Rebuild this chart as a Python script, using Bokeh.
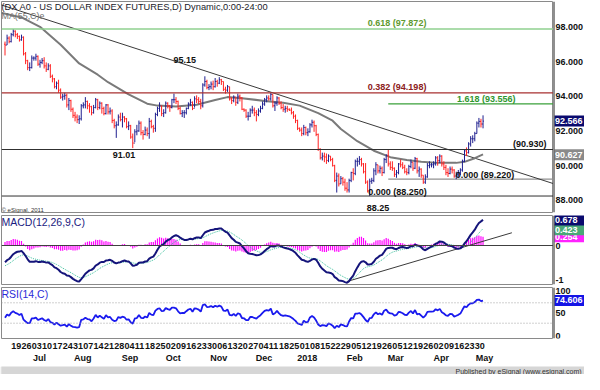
import numpy as np
import pandas as pd
from bokeh.plotting import figure
from bokeh.layouts import column, row
from bokeh.models import Range1d, Label, ColumnDataSource, Span
from bokeh.core.properties import value
from bokeh.embed import file_html
from bokeh.resources import INLINE

# ---------------- data ----------------
start_date = "2017-06-14"
end_date = "2018-05-04"

close = [96.95, 97.35, 97.15, 97.55, 97.75, 97.55, 97.45, 97.25, 97.40, 96.45, 96.05, 95.65, 95.65,
         96.20, 96.20, 96.30, 95.85, 95.95, 96.05, 95.75, 95.55, 95.75, 95.15, 95.00, 94.55, 94.75, 94.35, 93.95, 94.00, 94.05, 93.50, 93.75, 93.25, 92.90,
         92.80, 92.65, 92.70, 93.45, 93.50, 93.70, 93.45, 93.40, 93.05, 93.35, 93.80, 93.35, 93.60, 93.30, 93.00, 93.50, 93.10, 93.15, 92.60, 92.30, 92.35, 92.80, 92.65,
         92.80, 92.70, 92.25, 92.30, 91.65, 91.30, 91.95, 92.00, 92.45, 91.90, 91.80, 92.05, 91.85, 92.55, 92.25, 92.15, 92.95, 93.30, 93.45, 93.00, 93.05,
         93.60, 93.45, 93.35, 93.80, 93.80, 93.70, 93.30, 93.00, 93.05, 93.05, 93.30, 93.55, 93.65, 93.30, 93.85, 93.80, 93.70, 93.45, 94.65, 94.85, 94.50, 94.55,
         94.70, 94.55, 94.85, 94.75, 94.95, 94.85, 94.40, 94.35, 94.55, 93.85, 93.75, 93.95, 93.65, 94.00, 93.90, 93.25, 93.20, 92.85, 92.85, 93.20, 93.20, 93.05,
         92.95, 93.15, 93.30, 93.55, 93.80, 93.90, 93.85, 94.10, 93.45, 93.60, 93.90, 93.60, 93.35, 93.25, 93.30, 93.25, 93.20, 93.05, 92.85, 92.60, 92.15,
         92.05, 91.85, 92.20, 91.90, 91.95, 92.35, 92.50, 92.30, 91.80, 90.95, 90.45, 90.55, 90.50, 90.30, 90.55, 90.35, 90.00, 89.15, 89.40, 88.95, 89.25, 89.05, 88.70,
         88.60, 89.15, 89.60, 89.55, 90.25, 90.25, 90.35, 90.10, 89.65, 89.05, 88.55, 89.10, 89.15, 89.70, 90.05, 89.70, 89.85, 89.60, 90.35, 90.60,
         90.10, 89.90, 89.85, 89.50, 89.60, 90.10, 90.05, 89.90, 89.65, 89.60, 89.95, 90.20, 89.85, 90.40, 89.70, 89.80, 89.45, 89.05, 89.35, 90.00, 90.05, 90.05,
         90.10, 90.45, 90.30, 90.55, 90.10, 89.90, 89.60, 89.55, 89.80, 89.75, 89.40, 89.50, 89.60, 89.75, 90.25, 90.85, 90.75, 91.25, 91.55, 91.55, 91.85,
         92.45, 92.55, 92.40, 92.566]

high = [97.15, 97.55, 97.45, 97.65, 97.87, 97.80, 97.65, 97.50, 97.55, 97.45, 96.55, 96.10, 95.95,
        96.35, 96.30, 96.45, 96.35, 96.10, 96.20, 96.25, 95.95, 95.90, 95.85, 95.25, 95.05, 94.85, 94.95, 94.45, 94.15, 94.20, 94.15, 93.90, 93.80, 93.35,
        93.10, 92.95, 92.90, 93.55, 93.65, 93.95, 93.75, 93.60, 93.45, 93.50, 93.90, 93.85, 93.70, 93.65, 93.40, 93.55, 93.55, 93.35, 93.25, 92.70, 92.55, 92.95, 93.05,
        93.05, 92.85, 92.75, 92.55, 92.35, 91.85, 92.10, 92.35, 92.60, 92.55, 92.05, 92.25, 92.20, 92.75, 92.65, 92.35, 93.05, 93.40, 93.65, 93.45, 93.25,
        93.70, 93.65, 93.50, 93.85, 94.15, 93.95, 93.75, 93.40, 93.20, 93.20, 93.35, 93.65, 93.85, 93.70, 94.00, 94.05, 93.95, 93.85, 94.75, 95.15, 94.95, 94.70,
        94.85, 94.90, 95.05, 94.95, 95.10, 95.00, 94.85, 94.55, 94.65, 94.55, 93.95, 94.05, 93.95, 94.15, 94.10, 93.95, 93.30, 93.25, 93.10, 93.30, 93.45, 93.35,
        93.20, 93.30, 93.45, 93.70, 93.90, 94.05, 94.05, 94.20, 94.10, 93.70, 94.00, 93.95, 93.70, 93.55, 93.45, 93.45, 93.30, 93.35, 93.15, 92.95, 92.65,
        92.20, 92.20, 92.35, 92.25, 92.15, 92.45, 92.65, 92.60, 92.35, 91.85, 91.00, 90.75, 90.75, 90.70, 90.65, 90.55, 90.45, 90.05, 89.60, 89.55, 89.40, 89.35, 89.25,
        89.05, 89.25, 89.65, 89.85, 90.35, 90.45, 90.55, 90.45, 90.15, 90.15, 89.15, 89.25, 89.30, 89.85, 90.20, 90.05, 90.00, 89.95, 90.45, 90.65,
        90.93, 90.25, 90.25, 89.90, 89.75, 90.15, 90.35, 90.20, 90.05, 89.85, 90.05, 90.35, 90.20, 90.50, 90.45, 89.95, 89.85, 89.45, 89.50, 90.15, 90.25, 90.15,
        90.25, 90.55, 90.55, 90.65, 90.60, 90.25, 90.05, 89.85, 89.95, 89.95, 89.80, 89.65, 89.75, 89.85, 90.35, 90.95, 91.05, 91.35, 91.70, 91.75, 91.95,
        92.55, 92.75, 92.70, 92.90]

low = [96.35, 96.95, 97.05, 97.10, 97.45, 97.40, 97.30, 97.15, 97.20, 96.35, 95.85, 95.50, 95.45,
       95.60, 96.05, 96.05, 95.75, 95.65, 95.85, 95.60, 95.40, 95.50, 95.05, 94.80, 94.45, 94.40, 94.20, 93.85, 93.75, 93.80, 93.35, 93.20, 93.10, 92.75,
       92.55, 92.45, 92.40, 92.60, 93.30, 93.30, 93.25, 93.05, 92.90, 93.00, 93.30, 93.20, 93.25, 93.00, 92.90, 92.95, 92.95, 92.95, 92.45, 92.15, 91.60, 92.30, 92.55,
       92.20, 92.50, 92.15, 92.05, 91.55, 91.01, 91.35, 91.75, 91.95, 91.75, 91.50, 91.75, 91.70, 91.55, 92.15, 91.90, 91.95, 92.85, 93.10, 92.85, 92.80,
       93.00, 93.30, 93.10, 93.30, 93.60, 93.55, 93.20, 92.95, 92.80, 92.75, 92.95, 93.25, 93.45, 93.20, 93.35, 93.60, 93.55, 93.25, 93.35, 94.55, 94.40, 94.35,
       94.40, 94.35, 94.50, 94.55, 94.70, 94.65, 94.30, 94.15, 94.25, 93.75, 93.55, 93.65, 93.45, 93.55, 93.70, 93.20, 93.10, 92.75, 92.60, 92.80, 93.00, 92.85,
       92.55, 92.85, 93.05, 93.25, 93.45, 93.65, 93.75, 93.75, 93.35, 93.15, 93.45, 93.50, 93.25, 93.10, 93.05, 93.10, 93.15, 92.95, 92.70, 92.45, 92.05,
       91.95, 91.70, 91.75, 91.75, 91.70, 91.90, 92.20, 91.95, 91.70, 90.85, 90.35, 90.30, 90.20, 90.10, 90.20, 90.25, 89.95, 89.05, 88.45, 88.80, 88.95, 88.85, 88.55,
       88.45, 88.45, 89.05, 89.15, 89.45, 89.95, 90.05, 89.95, 89.55, 88.95, 88.45, 88.25, 88.95, 89.05, 89.45, 89.55, 89.55, 89.40, 89.55, 90.15,
       89.95, 89.75, 89.70, 89.35, 89.30, 89.50, 89.90, 89.80, 89.55, 89.45, 89.50, 89.85, 89.70, 89.80, 89.55, 89.35, 89.30, 88.95, 88.95, 89.30, 89.85, 89.90,
       89.85, 90.00, 90.00, 90.15, 89.95, 89.75, 89.45, 89.35, 89.50, 89.55, 89.30, 89.22, 89.35, 89.45, 89.65, 90.20, 90.55, 90.70, 91.10, 91.30, 91.40,
       91.85, 92.20, 92.20, 92.15]

# closes before the visible window (needed to start MACD / RSI)
warmup_close = [100.9, 101.2, 101.2, 100.5, 100.9, 100.9, 101.5, 101.2, 101.0, 101.1, 101.1, 101.1,
                101.8, 101.8, 101.5, 101.6, 101.9, 102.2, 102.0, 101.3, 101.2, 101.7, 100.6, 100.4, 100.3,
                100.3, 99.8, 99.7, 99.8, 99.6, 99.1, 99.7, 99.9, 100.4, 100.35,
                100.5, 100.7, 100.6, 100.7, 101.1, 101.05, 100.7, 100.3, 100.5, 100.5, 100.1, 99.5, 99.8,
                99.8, 99.8, 99.0, 99.2, 99.1, 99.2, 99.05,
                99.1, 99.0, 99.5, 98.8, 98.6, 98.9, 99.6, 99.6, 99.7, 99.2, 98.9, 98.2, 97.5, 97.7, 97.1,
                97.0, 97.3, 97.1, 97.3, 97.4, 97.4, 97.3, 97.0,
                97.2, 96.7, 96.9, 96.5, 96.6, 96.9, 97.3, 97.2, 97.0]

# MA(55) line (bar index, value)
ma_idx = [-2, 8, 17, 27, 36, 45, 50, 60, 69, 74, 83, 93, 102, 108, 115, 126, 135, 143, 152,
          159, 163, 171, 179, 187, 195, 202, 210, 219, 223, 228, 232]
ma_val = [98.81, 98.54, 98.00, 96.97, 95.89, 95.24, 94.81, 94.11, 93.57, 93.46, 93.41, 93.51,
          93.78, 93.95, 93.89, 93.73, 93.62, 93.46, 93.03, 92.59, 92.11, 91.41, 90.86, 90.49,
          90.32, 90.22, 90.16, 90.16, 90.22, 90.43, 90.65]

last_close, last_ma = 92.566, 90.627
last_macd, last_signal, last_hist, last_rsi = 0.678, 0.423, 0.254, 74.606

fib_names = ["0.618", "0.382", "1.618", "", "0.000", "0.000"]
fib_levels = [97.872, 94.198, 93.556, 90.930, 88.250, 89.220]
fib_start_idx = 186
swing_labels = ["95.15", "91.01", "88.25"]

trend_idx = [-2, 266]
trend_val = [99.27, 88.97]
macd_trend_idx = [166, 246]
macd_trend_val = [-0.96, 0.34]

price_ticks = [88, 90, 92, 94, 96, 98]
macd_ticks = [-1, 0]
rsi_ticks = [0, 50, 100]
rsi_bands = [70, 30]
month_names = ["Jul", "Aug", "Sep", "Oct", "Nov", "Dec", "2018", "Feb", "Mar", "Apr", "May"]

# ---------------- indicators ----------------
def ema(arr, n):
    a = 2.0 / (n + 1)
    out = np.empty(len(arr))
    out[0] = arr[0]
    for k in range(1, len(arr)):
        out[k] = a * arr[k] + (1 - a) * out[k - 1]
    return out

allc = np.array(warmup_close + close, dtype=float)
W = len(warmup_close)
macd_all = ema(allc, 12) - ema(allc, 26)
sig_all = ema(macd_all, 9)
macd = macd_all[W:]
sig = sig_all[W:]
hist = macd - sig

d = np.diff(allc)
g = np.clip(d, 0, None)
l = np.clip(-d, 0, None)
ag, al = g[:14].mean(), l[:14].mean()
rsi_all = np.full(len(allc), np.nan)
for k in range(15, len(allc)):
    ag = (ag * 13 + g[k - 1]) / 14
    al = (al * 13 + l[k - 1]) / 14
    rsi_all[k] = 100 - 100 / (1 + ag / al) if al > 0 else 100.0
rsi = rsi_all[W:]

dates = pd.bdate_range(start_date, end_date)
idx = np.arange(len(close))
opens = [warmup_close[-1]] + close[:-1]

# ---------------- styling ----------------
FONT = "Liberation Sans"
X0, X1 = -1.7, 266.2
xr = Range1d(X0, X1)
PW, RW = 553, 31
UP, DN = "#1f1f8f", "#ff2020"


def panel(h, yr, top, bottom):
    p = figure(width=PW, height=h, x_range=xr, y_range=yr,
               x_axis_location=None, y_axis_location=None,
               toolbar_location=None, output_backend="svg",
               min_border_left=1, min_border_right=0,
               min_border_top=top, min_border_bottom=bottom)
    p.grid.visible = False
    p.outline_line_color = "#8a8a8a"
    return p


def side(h, yr, top, bottom):
    r = figure(width=RW, height=h, x_range=Range1d(0, RW), y_range=yr,
               x_axis_location=None, y_axis_location=None,
               toolbar_location=None, output_backend="svg",
               min_border_left=0, min_border_right=0,
               min_border_top=top, min_border_bottom=bottom)
    r.grid.visible = False
    r.outline_line_color = None
    r.add_layout(Span(location=0, dimension="height", line_color="#202020", line_width=2))
    return r


def ticks(r, vals, labels, baselines=None):
    for k, (v, s) in enumerate(zip(vals, labels)):
        bl = baselines[k] if baselines else "middle"
        r.text(x=[2], y=[v], text=[s], text_align="left", text_baseline=bl,
               text_font=value(FONT), text_font_size="9px", text_font_style="bold",
               text_color="#111111")


def txt(p, x, y, s, color="#111111", size="9px", style="bold", align="center",
        baseline="middle"):
    p.add_layout(Label(x=x, y=y, text=s, text_color=color, text_font=FONT,
                       text_font_size=size, text_font_style=style,
                       text_align=align, text_baseline=baseline))


def vbox(r, y, s, bg, fg="white"):
    r.rect(x=[16], y=[y], width=30, height=11, width_units="screen", height_units="screen",
           fill_color=bg, line_color=None)
    r.text(x=[1.5], y=[y], text=[s], text_align="left", text_baseline="middle",
           text_font=value(FONT), text_font_size="9px", text_font_style="bold",
           text_color=fg)


# ---------------- main price panel ----------------
yr1 = Range1d(87.30, 99.46)
p1 = panel(213, yr1, 1, 1)
r1 = side(213, yr1, 1, 1)
ticks(r1, price_ticks, [f"{t:.3f}" for t in price_ticks])

p1.add_layout(Span(location=fib_levels[0], dimension="width", line_color="#8fd08f", line_width=1.5))
p1.add_layout(Span(location=fib_levels[1], dimension="width", line_color="#a83030", line_width=1.2))
p1.add_layout(Span(location=fib_levels[3], dimension="width", line_color="#303030", line_width=1))
p1.add_layout(Span(location=fib_levels[4], dimension="width", line_color="#303030", line_width=1))
p1.line([fib_start_idx, X1], [fib_levels[2], fib_levels[2]], line_color="#3aa03a", line_width=1.2)
p1.line([fib_start_idx, X1], [fib_levels[5], fib_levels[5]], line_color="#909090", line_width=1.2)

p1.line(trend_idx, trend_val, line_color="#3a3a3a", line_width=1)
p1.line(ma_idx, ma_val, line_color="#7a7a7a", line_width=2)

cols = [UP if c >= o else DN for c, o in zip(close, opens)]
src = ColumnDataSource(dict(x=idx, lo=low, hi=high, o=opens, c=close, col=cols,
                            xl=idx - 0.45, xr=idx + 0.45))
p1.segment("x", "lo", "x", "hi", line_color="col", line_width=1, source=src)
p1.segment("xl", "o", "x", "o", line_color="col", line_width=1, source=src)
p1.segment("x", "c", "xr", "c", line_color="col", line_width=1, source=src)

txt(p1, X0, 99.46, "(DX A0 - US DOLLAR INDEX FUTURES,D) Dynamic,0:00-24:00",
    color="#1a1a2a", size="9.3px", style="normal", align="left", baseline="top")
txt(p1, X0, 98.92, "MA(55,C)e", color="#707070", size="8.9px", style="normal",
    align="left", baseline="top")
txt(p1, 190.3, 98.22, f"{fib_names[0]} ({fib_levels[0]:.3f})", color="#5f9a30")
txt(p1, 190.3, 94.54, f"{fib_names[1]} ({fib_levels[1]:.3f})", color="#8b2020")
txt(p1, 233.6, 93.84, f"{fib_names[2]} ({fib_levels[2]:.3f})", color="#2f962f")
txt(p1, 254.7, 91.24, f"({fib_levels[3]:.3f})")
txt(p1, 190.5, 88.49, f"{fib_names[4]} ({fib_levels[4]:.3f})")
txt(p1, 233.0, 89.46, f"{fib_names[5]} ({fib_levels[5]:.3f})")
txt(p1, 87.2, 96.11, swing_labels[0])
txt(p1, 57.7, 90.59, swing_labels[1])
txt(p1, 181.0, 87.57, swing_labels[2])
txt(p1, X0, 87.46, "\u00a9 eSignal, 2011", color="#333333", size="6px", style="normal",
    align="left")
vbox(r1, last_ma, f"{last_ma:.3f}", "#8a8a8a")
vbox(r1, last_close, f"{last_close:.3f}", "#0a0a6e")

# ---------------- MACD panel ----------------
yr2 = Range1d(-1.04, 0.80)
p2 = panel(72, yr2, 2, 1)
r2 = side(72, yr2, 2, 1)
ticks(r2, macd_ticks, [f"{t:d}" for t in macd_ticks], ["bottom", "middle"])
p2.add_layout(Span(location=0, dimension="width", line_color="#404040", line_width=1))
p2.segment(idx, np.zeros(len(idx)), idx, hist, line_color="#ff00ff", line_width=1.2)
p2.line(macd_trend_idx, macd_trend_val, line_color="#3a3a3a", line_width=1)
p2.line(idx, sig, line_color="#3cbf9c", line_width=1, line_dash="1 1")
p2.line(idx, macd, line_color="#14147a", line_width=2)
txt(p2, X0, 0.80, "MACD(12,26,9,C)", color="#1a1a80", size="10.5px", style="normal",
    align="left", baseline="top")
vbox(r2, 0.235, f"{last_hist:.3f}", "#ff22ff")
vbox(r2, last_signal, f"{last_signal:.3f}", "#4aa878")
vbox(r2, last_macd, f"{last_macd:.3f}", "#0a0a6e")

# ---------------- RSI panel ----------------
yr3 = Range1d(0, 100)
p3 = panel(54, yr3, 2, 1)
r3 = side(54, yr3, 2, 1)
ticks(r3, rsi_ticks, [f"{t:d}" for t in rsi_ticks], ["bottom", "middle", "top"])
for b in rsi_bands:
    p3.add_layout(Span(location=b, dimension="width", line_color="#a0a0a0",
                       line_width=1, line_dash="1 2"))
p3.line(idx, rsi, line_color="#1a1aee", line_width=1.8)
txt(p3, X0, 100, "RSI(14,C)", color="#2a2ad8", size="10.5px", style="normal",
    align="left", baseline="top")
vbox(r3, last_rsi, f"{last_rsi:.3f}", "#1414e6")

# ---------------- date labels ----------------
pa = figure(width=PW, height=25, x_range=xr, y_range=Range1d(0, 25),
            x_axis_location=None, y_axis_location=None, toolbar_location=None,
            output_backend="svg", min_border_left=1, min_border_right=0,
            min_border_top=0, min_border_bottom=0)
pa.grid.visible = False
pa.outline_line_color = None
mondays = [i for i, dt in enumerate(dates) if dt.weekday() == 0 and 3 <= i <= 228]
pa.text(x=mondays, y=[19] * len(mondays), text=[f"{dates[i].day:02d}" for i in mondays],
        text_align="left", text_baseline="middle", text_font=value(FONT),
        text_font_size="9px", text_font_style="bold", text_color="#111111")
month_first = [i for i in range(1, len(dates)) if dates[i].month != dates[i - 1].month]
pa.text(x=[i + 3.7 for i in month_first], y=[7] * len(month_first),
        text=month_names[:len(month_first)], text_align="center", text_baseline="middle",
        text_font=value(FONT), text_font_size="9px", text_font_style="bold",
        text_color="#111111")

# ---------------- footer ----------------
p4 = figure(width=PW + RW, height=10, x_range=Range1d(0, 1), y_range=Range1d(0, 1),
            x_axis_location=None, y_axis_location=None, toolbar_location=None,
            output_backend="svg", min_border=0)
p4.grid.visible = False
p4.outline_line_color = None
p4.background_fill_color = "#d6d6d6"
p4.border_fill_color = "#d6d6d6"
p4.add_layout(Label(x=0.995, y=0.5, text="Published by eSignal (www.esignal.com)",
                    text_align="right", text_baseline="middle", text_font=FONT,
                    text_font_size="7px", text_color="#333333"))

layout = column(row(p1, r1, spacing=0), row(p2, r2, spacing=0), row(p3, r3, spacing=0),
                pa, p4, spacing=0)
open("out.html", "w").write(file_html(layout, INLINE))
